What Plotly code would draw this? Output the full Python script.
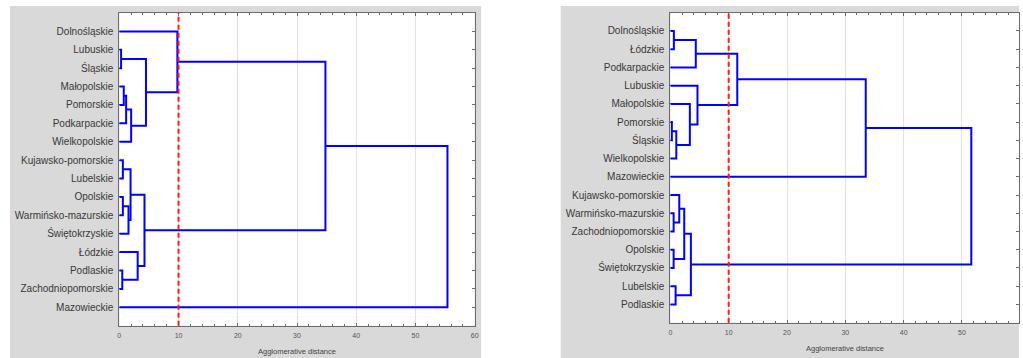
import plotly.graph_objects as go

W, H = 1023, 358

# ---------------- data ----------------
left_labels = ["Dolnośląskie", "Lubuskie", "Śląskie", "Małopolskie", "Pomorskie",
               "Podkarpackie", "Wielkopolskie", "Kujawsko-pomorskie", "Lubelskie",
               "Opolskie", "Warmińsko-mazurskie", "Świętokrzyskie", "Łódzkie",
               "Podlaskie", "Zachodniopomorskie", "Mazowieckie"]
# merges: cluster ids 0..15 are leaves, 16.. are the merges in order
left_merge_a = [1, 13, 7, 9, 3, 20, 19, 18, 21, 12, 23, 16, 0, 28, 29]
left_merge_b = [2, 14, 8, 10, 4, 5, 11, 22, 6, 17, 25, 24, 27, 26, 15]
left_merge_h = [0.3, 0.5, 0.6, 0.6, 0.75, 1.15, 1.55, 1.9, 2.0, 3.1, 4.25, 4.5, 9.8, 34.8, 55.4]

right_labels = ["Dolnośląskie", "Łódzkie", "Podkarpackie", "Lubuskie", "Małopolskie",
                "Pomorskie", "Śląskie", "Wielkopolskie", "Mazowieckie",
                "Kujawsko-pomorskie", "Warmińsko-mazurskie", "Zachodniopomorskie",
                "Opolskie", "Świętokrzyskie", "Lubelskie", "Podlaskie"]
right_merge_a = [5, 0, 10, 12, 14, 16, 9, 22, 4, 23, 17, 3, 26, 28, 29]
right_merge_b = [6, 1, 11, 13, 15, 7, 18, 19, 21, 20, 2, 24, 27, 8, 25]
right_merge_h = [0.25, 0.6, 0.56, 0.56, 0.9, 1.02, 1.53, 2.38, 3.34, 3.52, 4.36, 4.65, 11.47, 33.5, 51.6]

cut_distance = 10
x_ticks = [0, 10, 20, 30, 40, 50, 60]
x_title = "Agglomerative distance"


def dendro_xy(n, a, b, h):
    pos = {i: (0.0, i + 1.0) for i in range(n)}
    xs, ys = [], []
    for k, (i, j, d) in enumerate(zip(a, b, h)):
        xi, yi = pos[i]
        xj, yj = pos[j]
        xs += [xi, d, d, xj, None]
        ys += [yi, yi, yj, yj, None]
        pos[n + k] = (d, (yi + yj) / 2)
    return xs, ys


BLUE = "#0000ff"
AXC = "#6a6a6a"
GRAY_BG = "#d9d9d9"

fig = go.Figure()
lx, ly = dendro_xy(len(left_labels), left_merge_a, left_merge_b, left_merge_h)
rx, ry = dendro_xy(len(right_labels), right_merge_a, right_merge_b, right_merge_h)
fig.add_trace(go.Scatter(x=lx, y=ly, mode="lines", line=dict(color=BLUE, width=2),
                         xaxis="x", yaxis="y", hoverinfo="skip", showlegend=False))
fig.add_trace(go.Scatter(x=rx, y=ry, mode="lines", line=dict(color=BLUE, width=2),
                         xaxis="x2", yaxis="y2", hoverinfo="skip", showlegend=False))

# panel geometry (px)
L = dict(x0=118, x1=475.5, top=13, bottom=325.7)
R = dict(x0=672.3, x1=W, top=12.7, bottom=322.7)
r_xmax = 60 * (W - 672.3) / (1024.3 - 672.3)


def xaxis(dom, rng, anchor):
    return dict(domain=dom, range=rng, anchor=anchor, tickvals=x_ticks,
                showgrid=True, gridcolor="#e2e2e2", gridwidth=1,
                showline=True, linecolor=AXC, linewidth=1, mirror="ticks",
                ticks="inside", ticklen=3, tickcolor=AXC, tickwidth=1,
                minor=dict(dtick=2, ticks="inside", ticklen=2, tickcolor=AXC, showgrid=False),
                tickfont=dict(family="Liberation Sans, Arial", size=7, color="#555555"),
                ticklabelstandoff=3,
                zeroline=False, layer="below traces", fixedrange=True)


def yaxis(dom, labels, anchor):
    return dict(domain=dom, range=[len(labels) + 1, 0], anchor=anchor,
                tickvals=list(range(1, len(labels) + 1)), ticktext=labels,
                showgrid=False, zeroline=False,
                showline=True, linecolor=AXC, linewidth=1, mirror="ticks",
                ticks="inside", ticklen=3, tickcolor=AXC, tickwidth=1,
                ticklabelstandoff=3,
                tickfont=dict(family="Liberation Sans, Arial", size=10, color="#383838"),
                layer="below traces", fixedrange=True)


fig.update_layout(
    width=W, height=H, margin=dict(l=0, r=0, t=0, b=0),
    paper_bgcolor="white", plot_bgcolor="white", showlegend=False,
    xaxis=xaxis([L["x0"] / W, L["x1"] / W], [0, 60], "y"),
    yaxis=yaxis([(H - L["bottom"]) / H, (H - L["top"]) / H], left_labels, "x"),
    xaxis2=xaxis([R["x0"] / W, 1.0], [0, r_xmax], "y2"),
    yaxis2=yaxis([(H - R["bottom"]) / H, (H - R["top"]) / H], right_labels, "x2"),
)

shapes = [
    dict(type="rect", xref="paper", yref="paper", x0=8 / W, x1=482 / W, y0=0, y1=(H - 6) / H,
         fillcolor=GRAY_BG, line=dict(width=0), layer="below"),
    dict(type="rect", xref="paper", yref="paper", x0=562 / W, x1=1, y0=0, y1=(H - 6) / H,
         fillcolor=GRAY_BG, line=dict(width=0), layer="below"),
    dict(type="rect", xref="x domain", yref="y domain", x0=0, x1=1, y0=0, y1=1,
         fillcolor="white", line=dict(width=0), layer="below"),
    dict(type="rect", xref="x2 domain", yref="y2 domain", x0=0, x1=1, y0=0, y1=1,
         fillcolor="white", line=dict(width=0), layer="below"),
]
for xr, yr in (("x", "y domain"), ("x2", "y2 domain")):
    shapes.append(dict(type="line", xref=xr, yref=yr, x0=cut_distance, x1=cut_distance,
                       y0=0, y1=1, line=dict(color="#ff1a1a", width=2, dash="5px,3px"),
                       layer="above"))
fig.update_layout(shapes=shapes)

fig.add_annotation(text=x_title, xref="x domain", yref="paper", x=0.5, y=(H - 351) / H,
                   showarrow=False, yanchor="middle",
                   font=dict(family="Liberation Sans, Arial", size=7.5, color="#444444"))
fig.add_annotation(text=x_title, xref="x2 domain", yref="paper", x=0.5, y=(H - 348) / H,
                   showarrow=False, yanchor="middle",
                   font=dict(family="Liberation Sans, Arial", size=7.5, color="#444444"))

fig.write_html("out.html", config={"displayModeBar": False},
               post_script="document.body.style.margin='0';document.body.style.overflow='hidden';")
